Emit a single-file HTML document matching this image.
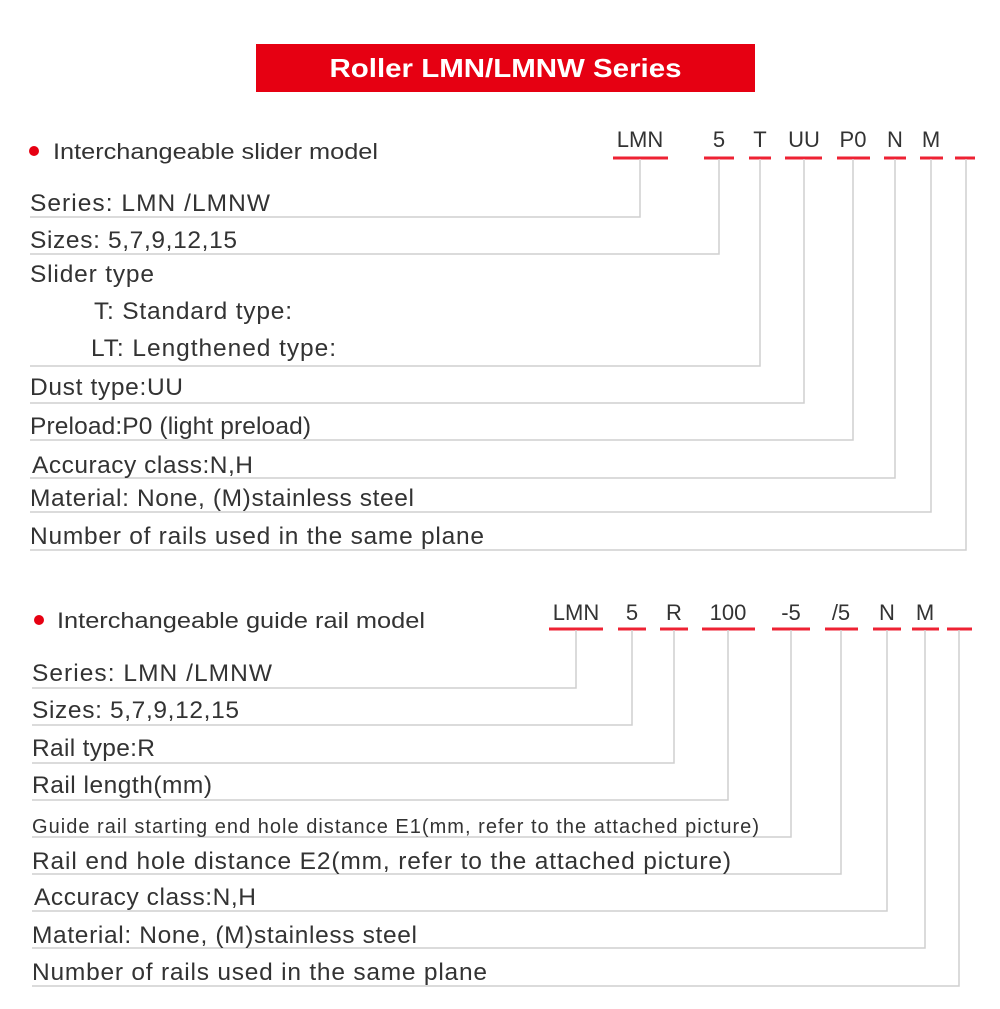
<!DOCTYPE html>
<html><head><meta charset="utf-8"><style>
html,body{margin:0;padding:0;background:#fff;}
svg{display:block;}
text{font-family:"Liberation Sans",sans-serif;fill:#333;}
</style></head><body>
<svg width="1000" height="1009" viewBox="0 0 1000 1009" xmlns="http://www.w3.org/2000/svg">
<rect x="256" y="44" width="499" height="48" fill="#e60012"/>
<text x="505.5" y="77" text-anchor="middle" font-size="26" font-weight="bold" style="fill:#fff" textLength="352" lengthAdjust="spacingAndGlyphs">Roller LMN/LMNW Series</text>

<circle cx="34" cy="151" r="5" fill="#e60012"/>
<text x="53" y="159" font-size="22" textLength="325" lengthAdjust="spacingAndGlyphs">Interchangeable slider model</text>
<g font-size="22" text-anchor="middle">
<text x="640" y="147">LMN</text><text x="719" y="147">5</text><text x="760" y="147">T</text><text x="804" y="147">UU</text><text x="853" y="147">P0</text><text x="895" y="147">N</text><text x="931" y="147">M</text>
</g>
<g stroke="#ee2233" stroke-width="3">
<line x1="613" y1="158" x2="668" y2="158"/><line x1="704" y1="158" x2="734" y2="158"/><line x1="749" y1="158" x2="771" y2="158"/><line x1="785" y1="158" x2="822" y2="158"/><line x1="837" y1="158" x2="870" y2="158"/><line x1="884" y1="158" x2="906" y2="158"/><line x1="920" y1="158" x2="943" y2="158"/><line x1="955" y1="158" x2="975" y2="158"/>
</g>
<g stroke="#cfcfcf" stroke-width="1.5" fill="none">
<polyline points="640,159 640,217 30,217"/>
<polyline points="719,159 719,254 30,254"/>
<polyline points="760,159 760,366 30,366"/>
<polyline points="804,159 804,403 30,403"/>
<polyline points="853,159 853,440 30,440"/>
<polyline points="895,159 895,478 30,478"/>
<polyline points="931,159 931,512 30,512"/>
<polyline points="966,159 966,550 30,550"/>
</g>
<g font-size="24.5" lengthAdjust="spacingAndGlyphs">
<text x="30" y="211" textLength="240">Series: LMN /LMNW</text>
<text x="30" y="248" textLength="207">Sizes: 5,7,9,12,15</text>
<text x="30" y="282" textLength="124">Slider type</text>
<text x="94" y="319" textLength="198">T: Standard type:</text>
<text x="91" y="356" textLength="245">LT: Lengthened type:</text>
<text x="30" y="395" textLength="153">Dust type:UU</text>
<text x="30" y="434" textLength="281">Preload:P0 (light preload)</text>
<text x="32" y="473" textLength="221">Accuracy class:N,H</text>
<text x="30" y="506" textLength="384">Material: None, (M)stainless steel</text>
<text x="30" y="544" textLength="454">Number of rails used in the same plane</text>
</g>

<circle cx="39" cy="620" r="5" fill="#e60012"/>
<text x="57" y="628" font-size="22" textLength="368" lengthAdjust="spacingAndGlyphs">Interchangeable guide rail model</text>
<g font-size="22" text-anchor="middle">
<text x="576" y="620">LMN</text><text x="632" y="620">5</text><text x="674" y="620">R</text><text x="728" y="620">100</text><text x="791" y="620">-5</text><text x="841" y="620">/5</text><text x="887" y="620">N</text><text x="925" y="620">M</text>
</g>
<g stroke="#ee2233" stroke-width="3">
<line x1="549" y1="629" x2="603" y2="629"/><line x1="618" y1="629" x2="646" y2="629"/><line x1="660" y1="629" x2="688" y2="629"/><line x1="702" y1="629" x2="755" y2="629"/><line x1="772" y1="629" x2="810" y2="629"/><line x1="825" y1="629" x2="858" y2="629"/><line x1="873" y1="629" x2="901" y2="629"/><line x1="912" y1="629" x2="939" y2="629"/><line x1="947" y1="629" x2="972" y2="629"/>
</g>
<g stroke="#cfcfcf" stroke-width="1.5" fill="none">
<polyline points="576,630 576,688 32,688"/>
<polyline points="632,630 632,725 32,725"/>
<polyline points="674,630 674,763 32,763"/>
<polyline points="728,630 728,800 32,800"/>
<polyline points="791,630 791,837 32,837"/>
<polyline points="841,630 841,874 32,874"/>
<polyline points="887,630 887,911 32,911"/>
<polyline points="925,630 925,948 32,948"/>
<polyline points="959,630 959,986 32,986"/>
</g>
<g font-size="24.5" lengthAdjust="spacingAndGlyphs">
<text x="32" y="681" textLength="240">Series: LMN /LMNW</text>
<text x="32" y="718" textLength="207">Sizes: 5,7,9,12,15</text>
<text x="32" y="756" textLength="123">Rail type:R</text>
<text x="32" y="793" textLength="180">Rail length(mm)</text>
<text x="32" y="833" font-size="20" textLength="727">Guide rail starting end hole distance E1(mm, refer to the attached picture)</text>
<text x="32" y="869" textLength="699">Rail end hole distance E2(mm, refer to the attached picture)</text>
<text x="34" y="905" textLength="222">Accuracy class:N,H</text>
<text x="32" y="943" textLength="385">Material: None, (M)stainless steel</text>
<text x="32" y="980" textLength="455">Number of rails used in the same plane</text>
</g>
</svg>
</body></html>
